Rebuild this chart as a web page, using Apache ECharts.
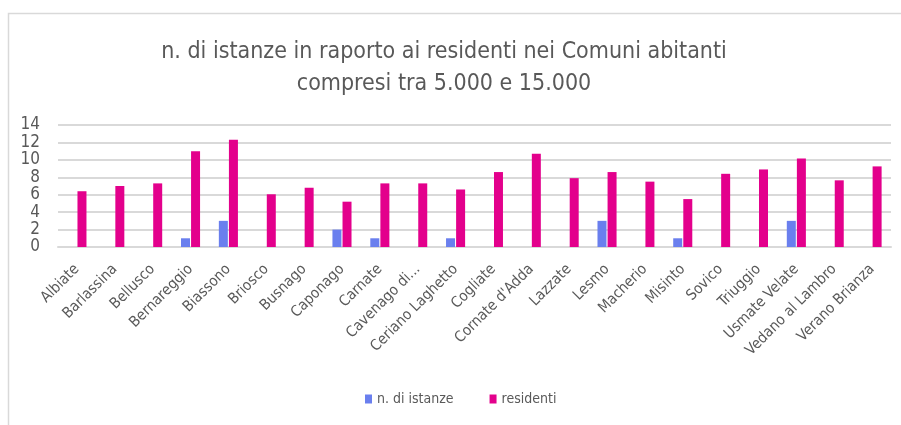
<!DOCTYPE html>
<html>
<head>
<meta charset="utf-8">
<script src="https://cdn.jsdelivr.net/npm/echarts@6/dist/echarts.min.js"></script>
<style>
  html, body { margin: 0; padding: 0; background: #fff; }
  #chart { width: 901px; height: 425px; }
</style>
</head>
<body>
<div id="chart"></div>
<script>
// comuni tra 5.000 e 15.000 abitanti
var comuni = ["Albiate", "Barlassina", "Bellusco", "Bernareggio", "Biassono", "Briosco",
    "Busnago", "Caponago", "Carnate", "Cavenago di Brianza", "Ceriano Laghetto", "Cogliate",
    "Cornate d'Adda", "Lazzate", "Lesmo", "Macherio", "Misinto", "Sovico", "Triuggio",
    "Usmate Velate", "Vedano al Lambro", "Verano Brianza"];
var istanze = [0, 0, 0, 1, 3, 0, 0, 2, 1, 0, 1, 0, 0, 0, 3, 0, 1, 0, 0, 3, 0, 0];
var residenti = [6.4, 7.0, 7.3, 11.0, 12.3, 6.05, 6.8, 5.2, 7.3, 7.3, 6.6, 8.6,
    10.7, 7.9, 8.6, 7.5, 5.5, 8.4, 8.9, 10.15, 7.65, 9.25];
var yTicks = [0, 2, 4, 6, 8, 10, 12, 14];

var font = '"Liberation Sans Narrow", "DejaVu Sans Condensed", "Liberation Sans", sans-serif';
var grey = '#595959';

var chart = echarts.init(document.getElementById("chart"));
chart.setOption({
    backgroundColor: '#fff',
    animation: false,
    textStyle: { fontFamily: font },
    // cornice del grafico
    graphic: [{
        type: 'rect',
        shape: { x: 8.5, y: 13.5, width: 1000, height: 1000 },
        style: { fill: 'none', stroke: '#d9d9d9', lineWidth: 1.5 }
    }],
    title: {
        text: "n. di istanze in raporto ai residenti nei Comuni abitanti\ncompresi tra 5.000 e 15.000",
        left: 439,
        textAlign: 'center',
        top: 31,
        textStyle: { fontFamily: font, fontSize: 23, fontWeight: 'normal', color: grey, lineHeight: 32 }
    },
    legend: {
        data: ["n. di istanze", "residenti"],
        bottom: 14,
        left: 360,
        itemWidth: 7,
        itemHeight: 9,
        itemGap: 36,
        icon: 'rect',
        textStyle: { fontFamily: font, fontSize: 14, color: grey }
    },
    grid: { left: 58, right: 10, top: 125, bottom: 178 },
    xAxis: {
        type: 'category',
        data: comuni,
        axisLine: { lineStyle: { color: '#d9d9d9', width: 2 } },
        axisTick: { show: false },
        axisLabel: {
            rotate: 45,
            interval: 0,
            fontFamily: font,
            fontSize: 15,
            color: grey,
            margin: 20,
            formatter: function (v) { return v.length > 16 ? v.slice(0, 11) + '...' : v; }
        }
    },
    yAxis: {
        type: 'value',
        min: yTicks[0],
        max: yTicks[yTicks.length - 1],
        interval: 2,
        axisLine: { show: false },
        axisTick: { show: false },
        axisLabel: { fontFamily: font, fontSize: 17, color: grey, margin: 18 },
        splitLine: { lineStyle: { color: '#d9d9d9', width: 2 } }
    },
    series: [{
        name: "n. di istanze",
        type: 'bar',
        data: istanze,
        barWidth: 9,
        barGap: '12%',
        itemStyle: { color: '#6a7fee' }
    }, {
        name: "residenti",
        type: 'bar',
        data: residenti,
        barWidth: 9,
        itemStyle: { color: '#e3008c' }
    }]
});
</script>
</body>
</html>
